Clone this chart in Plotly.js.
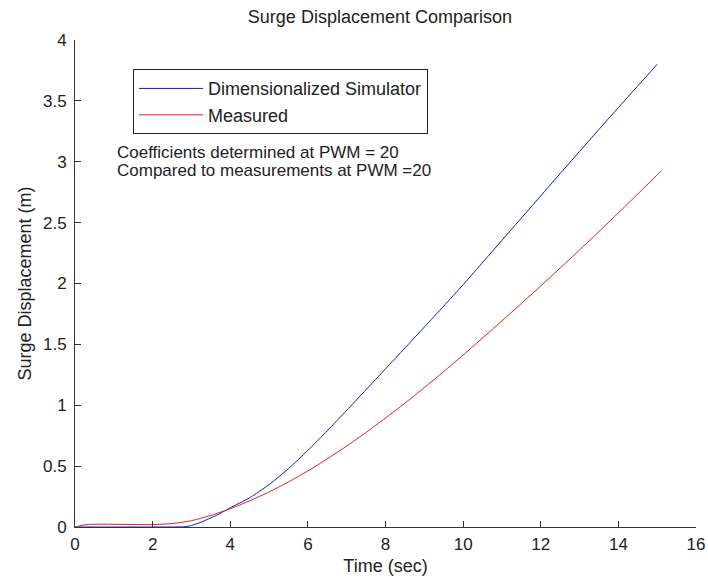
<!DOCTYPE html>
<html>
<head>
<meta charset="utf-8">
<script src="https://cdn.plot.ly/plotly-3.0.1.min.js"></script>
<style>html,body{margin:0;padding:0;background:#fff;}#chart{width:708px;height:582px;}</style>
</head>
<body>
<div id="chart"></div>
<script>
// Data
var simTime = [0, 2.4, 2.8, 3.0, 3.25, 3.5, 3.75, 4, 4.5, 5, 5.5, 6, 6.5, 7, 7.5, 8, 8.5, 9, 9.5, 10, 11, 12, 13, 14, 15];
var simDisp = [0, 0, 0.002, 0.012, 0.04, 0.075, 0.113, 0.158, 0.24, 0.348, 0.479, 0.629, 0.79, 0.958, 1.128, 1.299, 1.47, 1.642, 1.815, 1.99, 2.355, 2.72, 3.085, 3.445, 3.80];
var measTime = [0, 0.3, 2.0, 2.5, 3, 3.5, 4, 4.5, 5, 5.5, 6, 6.5, 7, 7.5, 8, 8.5, 9, 9.5, 10, 11, 12, 13, 14, 15, 15.1];
var measDisp = [0, 0.02, 0.02, 0.028, 0.052, 0.095, 0.15, 0.215, 0.2875, 0.37, 0.46, 0.56, 0.665, 0.777, 0.895, 1.017, 1.145, 1.277, 1.4125, 1.6925, 1.98, 2.275, 2.58, 2.8925, 2.924];
var seriesNames = ['Dimensionalized Simulator', 'Measured'];
var xTicks = [0, 2, 4, 6, 8, 10, 12, 14, 16];
var yTicks = [0, 0.5, 1, 1.5, 2, 2.5, 3, 3.5, 4];
var noteLines = ['Coefficients determined at PWM = 20', 'Compared to measurements at PWM =20'];

var FONT = 'Arial, "Liberation Sans", sans-serif';
var TXT = '#222';
var traces = [
  {x: simTime, y: simDisp, name: seriesNames[0], type: 'scatter', mode: 'lines',
   line: {color: 'rgb(20,20,210)', width: 1, shape: 'spline', smoothing: 0.6}},
  {x: measTime, y: measDisp, name: seriesNames[1], type: 'scatter', mode: 'lines',
   line: {color: 'rgb(225,30,30)', width: 1, shape: 'spline', smoothing: 0.6}}
];

var axisCommon = {
  showgrid: false, zeroline: false, showline: true, linecolor: '#333', linewidth: 1,
  ticks: 'inside', ticklen: 6, tickcolor: '#333', tickwidth: 1,
  tickfont: {family: FONT, size: 17, color: TXT}, automargin: false
};

var layout = {
  width: 708, height: 582,
  margin: {l: 75, r: 12, t: 40, b: 55},
  paper_bgcolor: '#fff', plot_bgcolor: '#fff',
  font: {family: FONT, size: 17, color: TXT},
  title: {text: 'Surge Displacement Comparison', xref: 'paper', x: 0.491, xanchor: 'center', y: 0.971, yanchor: 'middle',
          font: {family: FONT, size: 18, color: TXT}},
  xaxis: Object.assign({}, axisCommon, {
    range: [0, 16], tickvals: xTicks, ticktext: xTicks.map(String), ticklabelstandoff: 2,
    title: {text: 'Time (sec)', font: {family: FONT, size: 18, color: TXT}, standoff: 5}
  }),
  yaxis: Object.assign({}, axisCommon, {
    range: [0, 4], tickvals: yTicks, ticktext: yTicks.map(String), ticklabelstandoff: 4,
    title: {text: 'Surge Displacement (m)', font: {family: FONT, size: 18, color: TXT}, standoff: 6}
  }),
  showlegend: true,
  legend: {
    x: 0.0934, y: 0.94, xanchor: 'left', yanchor: 'top',
    bgcolor: '#fff', bordercolor: '#222', borderwidth: 1,
    font: {family: FONT, size: 18, color: TXT}, itemwidth: 64, tracegroupgap: 0
  },
  annotations: [
    {xref: 'paper', yref: 'paper', x: 0.064, y: 0.7695, xanchor: 'left', yanchor: 'middle',
     text: noteLines[0], showarrow: false, font: {family: FONT, size: 17, color: TXT}},
    {xref: 'paper', yref: 'paper', x: 0.064, y: 0.732, xanchor: 'left', yanchor: 'middle',
     text: noteLines[1], showarrow: false, font: {family: FONT, size: 17, color: TXT}}
  ]
};

Plotly.newPlot('chart', traces, layout, {staticPlot: true, displayModeBar: false});
</script>
</body>
</html>
